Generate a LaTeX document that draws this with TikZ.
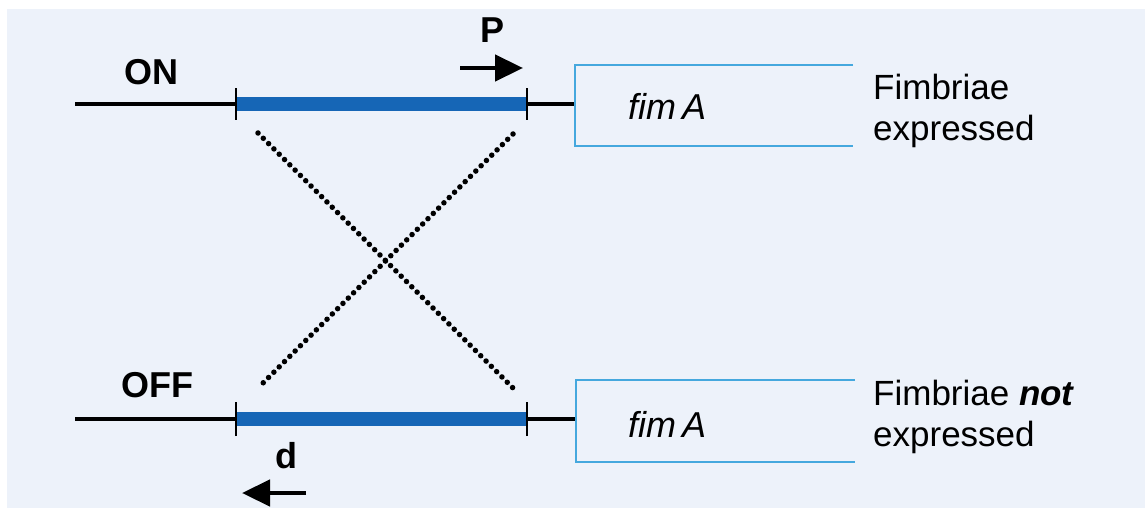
\documentclass[tikz,border=0pt]{standalone}
\usepackage{fontspec}
\setmainfont{Liberation Sans}
\usetikzlibrary{arrows.meta}
\definecolor{bg}{HTML}{EDF2FA}
\definecolor{barblue}{HTML}{1666B6}
\definecolor{boxblue}{HTML}{45A8DE}
\begin{document}
\begin{tikzpicture}[x=1pt,y=-1pt,
  lbl/.style={font=\fontsize{36}{40}\selectfont\bfseries, inner sep=0pt},
  txt/.style={font=\fontsize{35}{41}\selectfont, inner sep=0pt, anchor=base west},
  gene/.style={font=\fontsize{36}{40}\selectfont\itshape, inner sep=0pt, anchor=base west},
  dna/.style={line width=3.5pt, black},
  bar/.style={line width=14pt, barblue},
  tickmark/.style={line width=2.5pt, black},
  boxline/.style={line width=2.8pt, boxblue},
  cross/.style={line width=5.5pt, line cap=round, dash pattern=on 0pt off 7.5pt},
  pointer/.style={line width=4.5pt, -{Triangle[length=28pt,width=26pt]}}
]
\fill[white] (0,0) rectangle (1145,508);
\fill[bg] (7,9) rectangle (1145,508);
\useasboundingbox (0,0) rectangle (1145,508);

% ---------- ON ----------
\coordinate (onL) at (75,104);
\coordinate (onA) at (236,104);
\coordinate (onB) at (527,104);
\coordinate (onBox) at (575,104);
\draw[dna] (onL) -- (onA);
\draw[bar] (onA) -- (onB);
\draw[dna] (onB) -- (onBox);
\draw[tickmark] ([yshift=-16pt]onA) -- ([yshift=16pt]onA);
\draw[tickmark] ([yshift=-16pt]onB) -- ([yshift=16pt]onB);
\coordinate (onTR) at (853,65);
\coordinate (onTL) at (575,65);
\coordinate (onBL) at (575,146);
\coordinate (onBR) at (853,146);
\draw[boxline] (onTR) -- (onTL) -- (onBL) -- (onBR);
\node[lbl] (on) at (151,72) {ON};
\node[gene] (fim1) at (628,120) {fim\,A};
\node[txt] (f1a) at (873,100) {Fimbriae};
\node[txt] (f1b) at (873,140) {expressed};
\node[lbl] (p) at (492,30) {P};
\coordinate (pS) at (460,68);
\coordinate (pE) at (523,68);
\draw[pointer] (pS) -- (pE);

% ---------- OFF ----------
\coordinate (offL) at (75,419);
\coordinate (offA) at (236,419);
\coordinate (offB) at (527,419);
\coordinate (offBox) at (576,419);
\draw[dna] (offL) -- (offA);
\draw[bar] (offA) -- (offB);
\draw[dna] (offB) -- (offBox);
\draw[tickmark] ([yshift=-17pt]offA) -- ([yshift=17pt]offA);
\draw[tickmark] ([yshift=-17pt]offB) -- ([yshift=17pt]offB);
\coordinate (offTR) at (855,380);
\coordinate (offTL) at (576,380);
\coordinate (offBL) at (576,462);
\coordinate (offBR) at (855,462);
\draw[boxline] (offTR) -- (offTL) -- (offBL) -- (offBR);
\node[lbl] (off) at (157,385) {OFF};
\node[gene] (fim2) at (628,437) {fim\,A};
\node[txt] (f2a) at (873,405) {Fimbriae \textbf{\textit{not}}};
\node[txt] (f2b) at (873,446) {expressed};
\node[lbl] (d) at (286,456) {d};
\coordinate (dS) at (306,493);
\coordinate (dE) at (242,493);
\draw[pointer] (dS) -- (dE);

% ---------- crossing ----------
\coordinate (c1) at (258,133);
\coordinate (c2) at (514,389);
\coordinate (c3) at (513,134);
\coordinate (c4) at (258,388);
\draw[cross] (c1) -- (c2);
\draw[cross] (c3) -- (c4);
\end{tikzpicture}
\end{document}
